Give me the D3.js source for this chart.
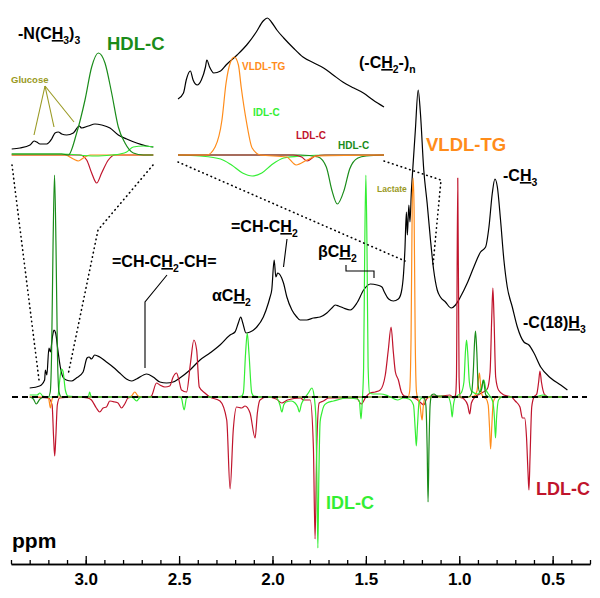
<!DOCTYPE html>
<html><head><meta charset="utf-8">
<script src="https://cdn.jsdelivr.net/npm/d3@7"></script>
<style>html,body{margin:0;padding:0;background:#fff}svg{display:block}</style>
</head><body>
<svg id="c" width="600" height="598"></svg>
<script>
// ---------- DATA ----------
const majorTicks = [3.0, 2.5, 2.0, 1.5, 1.0, 0.5];
const tickLabels = ["3.0", "2.5", "2.0", "1.5", "1.0", "0.5"];
const minorTicks = [3.4,3.3,3.2,3.1,3.0,2.9,2.8,2.7,2.6,2.5,2.4,2.3,2.2,2.1,2.0,1.9,1.8,1.7,1.6,1.5,1.4,1.3,1.2,1.1,1.0,0.9,0.8,0.7,0.6,0.5,0.4,0.3];

// main spectra: [ppm, intensity]
const totalSpectrum = [[3.300,9],[3.247,11],[3.220,17],[3.216,27],[3.208,22],[3.197,49],[3.189,45],[3.179,59],[3.170,67],[3.161,64],[3.149,47],[3.136,30],[3.122,20],[3.104,17],[3.077,16],[3.050,19],[3.014,25],[2.993,39],[2.982,40],[2.969,38],[2.952,42],[2.925,40],[2.889,35],[2.854,30],[2.818,24],[2.782,18],[2.755,16],[2.728,18],[2.674,23],[2.639,20],[2.603,15],[2.567,14],[2.532,15],[2.496,19],[2.442,27],[2.388,37],[2.335,44],[2.281,52],[2.227,62],[2.201,65],[2.183,74],[2.170,80],[2.159,74],[2.142,64],[2.120,65],[2.084,70],[2.049,80],[2.022,94],[2.013,100],[2.004,107],[1.991,137],[1.982,120],[1.972,124],[1.959,122],[1.941,114],[1.923,100],[1.896,87],[1.870,80],[1.852,77],[1.816,77],[1.781,79],[1.745,80],[1.709,84],[1.682,89],[1.664,92],[1.646,91],[1.620,89],[1.584,87],[1.548,94],[1.512,107],[1.476,113],[1.440,112],[1.414,110],[1.401,105],[1.378,98],[1.353,96],[1.326,98],[1.310,105],[1.298,124],[1.291,147],[1.283,185],[1.278,162],[1.270,192],[1.264,175],[1.256,207],[1.251,222],[1.235,267],[1.220,307],[1.208,284],[1.190,227],[1.172,194],[1.154,157],[1.137,127],[1.118,107],[1.101,100],[1.074,95],[1.043,89],[1.020,92],[0.994,100],[0.957,114],[0.922,130],[0.886,145],[0.859,150],[0.841,170],[0.823,204],[0.809,218],[0.796,210],[0.779,177],[0.761,137],[0.743,110],[0.716,90],[0.689,70],[0.654,55],[0.627,52],[0.600,44],[0.564,30],[0.511,19],[0.457,12],[0.421,7]];

const ldlC = [[3.30,0],[3.20,-1],[3.18,-8],[3.172,-40],[3.166,-59],[3.160,-40],[3.152,-8],[3.14,-1],[3.05,0],[2.99,-1],[2.969,-3],[2.943,-11],[2.925,-15],[2.907,-11],[2.889,-10],[2.871,-4],[2.844,-5],[2.827,-6],[2.808,-11],[2.791,-7],[2.773,-1],[2.746,0],[2.66,0],[2.648,1],[2.621,14],[2.603,12],[2.576,10],[2.550,11],[2.532,20],[2.514,24],[2.501,17],[2.487,7],[2.460,5],[2.439,34],[2.421,57],[2.406,47],[2.392,10],[2.362,4],[2.335,0],[2.281,-4],[2.245,-23],[2.227,-92],[2.210,-33],[2.192,-10],[2.165,-11],[2.147,-9],[2.120,-16],[2.093,-41],[2.081,-16],[2.067,-3],[2.031,0],[1.98,-2],[1.95,-6],[1.92,-3],[1.85,-1],[1.834,-3],[1.798,-3],[1.781,-50],[1.772,-142],[1.763,-50],[1.750,-6],[1.727,-4],[1.70,-1],[1.62,-1],[1.55,-1],[1.525,-7],[1.50,0],[1.477,4],[1.450,5],[1.423,7],[1.396,22],[1.380,47],[1.365,70],[1.353,45],[1.342,25],[1.326,17],[1.310,5],[1.294,1],[1.26,0],[1.23,-2],[1.205,-6],[1.19,-8],[1.175,-2],[1.15,1],[1.10,1],[1.05,2],[1.03,-1],[1.02,2],[1.015,20],[1.008,219],[1.001,20],[0.995,0],[0.975,-2],[0.955,-8],[0.944,-17],[0.935,-6],[0.915,0],[0.88,4],[0.85,8],[0.835,25],[0.826,80],[0.820,109],[0.814,80],[0.805,20],[0.79,7],[0.76,2],[0.72,0],[0.70,-4],[0.675,-10],[0.662,-21],[0.650,-21],[0.640,-40],[0.632,-75],[0.627,-93],[0.621,-60],[0.612,-10],[0.60,0],[0.585,3],[0.575,15],[0.568,26],[0.560,15],[0.545,3],[0.52,0],[0.42,0]];

const idlC = [[3.30,2],[3.26,2],[3.245,4],[3.23,1],[3.20,0],[3.16,0],[3.149,1],[3.139,17],[3.130,28],[3.122,26],[3.109,7],[3.095,1],[3.00,0],[2.985,1],[2.979,5],[2.972,1],[2.96,0],[2.76,0],[2.745,-1],[2.728,-4],[2.712,-1],[2.70,0],[2.50,0],[2.488,-1],[2.473,-13],[2.460,-1],[2.44,0],[2.20,0],[2.165,1],[2.156,4],[2.144,44],[2.135,64],[2.126,44],[2.111,4],[2.10,1],[2.05,0],[2.00,0],[1.977,-1],[1.960,-8],[1.950,-15],[1.940,-8],[1.927,-5],[1.900,-4],[1.879,-6],[1.865,-10],[1.856,-15],[1.845,-7],[1.834,-3],[1.808,4],[1.789,9],[1.778,2],[1.768,-20],[1.762,-83],[1.757,-151],[1.752,-83],[1.745,-25],[1.736,-16],[1.725,-9],[1.709,-6],[1.673,-4],[1.601,-1],[1.548,-2],[1.535,-4],[1.526,-22],[1.519,-3],[1.512,30],[1.506,150],[1.500,222],[1.494,150],[1.488,30],[1.480,4],[1.46,3],[1.42,3],[1.38,1],[1.33,-3],[1.30,-1],[1.27,-2],[1.245,-8],[1.235,-35],[1.230,-49],[1.224,-30],[1.215,-5],[1.20,-1],[1.10,1],[1.06,0],[1.045,-8],[1.038,-20],[1.031,-8],[1.02,0],[0.99,4],[0.975,15],[0.967,45],[0.961,57],[0.955,45],[0.946,15],[0.935,6],[0.90,3],[0.88,10],[0.868,17],[0.858,8],[0.84,2],[0.82,-5],[0.812,-20],[0.806,-41],[0.800,-20],[0.790,-3],[0.77,0],[0.60,0],[0.55,2],[0.52,0],[0.42,0]];

const hdlC = [[3.30,0],[3.28,-2],[3.265,-7],[3.245,-2],[3.22,0],[3.20,0],[3.19,5],[3.183,40],[3.175,150],[3.167,222],[3.159,150],[3.151,40],[3.143,5],[3.13,0],[1.20,0],[1.185,-2],[1.178,-10],[1.172,-50],[1.167,-105],[1.162,-50],[1.156,-8],[1.148,2],[1.135,3],[1.12,1],[1.10,0],[0.95,0],[0.935,3],[0.925,25],[0.918,55],[0.913,66],[0.906,45],[0.899,12],[0.890,5],[0.880,8],[0.872,17],[0.866,12],[0.858,2],[0.84,0],[0.42,0]];

const vldlTG = [[3.30,0],[3.21,0],[3.198,-2],[3.189,-11],[3.180,-2],[3.17,0],[2.77,0],[2.755,1],[2.737,5],[2.720,1],[2.70,0],[1.29,0],[1.275,0],[1.266,5],[1.258,60],[1.252,190],[1.247,219],[1.242,190],[1.236,60],[1.229,5],[1.220,-3],[1.210,-8],[1.204,-18],[1.199,-23],[1.193,-10],[1.185,-1],[1.10,0],[0.95,0],[0.92,1],[0.905,6],[0.897,18],[0.892,24],[0.887,15],[0.880,3],[0.870,0],[0.855,-2],[0.845,-8],[0.838,-30],[0.832,-52],[0.826,-30],[0.818,-5],[0.80,0],[0.42,0]];

// left inset (N(CH3)3 region)
const insetL_total = [[3.260,6],[3.250,7],[3.238,10],[3.233,14],[3.230,13],[3.226,11],[3.218,11],[3.212,16],[3.208,22],[3.204,23],[3.200,21],[3.194,20],[3.186,22],[3.179,29],[3.176,27],[3.168,29],[3.160,31],[3.152,30],[3.142,27],[3.132,20],[3.122,16],[3.110,12],[3.098,9],[3.090,8]];
const insetL_hdl = [[3.260,1],[3.20,1],[3.192,0],[3.182,22],[3.172,55],[3.164,88],[3.156,102],[3.148,92],[3.140,62],[3.132,28],[3.124,12],[3.114,2],[3.102,0],[3.090,0]];
const insetL_idl = [[3.260,1],[3.20,1],[3.16,-1],[3.14,0],[3.13,1],[3.122,3],[3.114,8],[3.102,9],[3.090,8]];
const insetL_vldl = [[3.260,0],[3.196,0],[3.186,-4],[3.180,-6],[3.174,-3],[3.166,0],[3.090,0]];
const insetL_ldl = [[3.260,0],[3.178,0],[3.170,-5],[3.164,-18],[3.158,-28],[3.152,-18],[3.144,-5],[3.136,0],[3.090,0]];

// middle inset (CH2 region)
const insetM_total = [[1.290,56],[1.286,62],[1.284,75],[1.281,84],[1.279,75],[1.276,70],[1.273,75],[1.270,88],[1.269,95],[1.267,88],[1.264,82],[1.259,84],[1.255,90],[1.247,100],[1.240,110],[1.233,123],[1.228,134],[1.225,137],[1.222,133],[1.218,125],[1.213,117],[1.206,107],[1.199,98],[1.191,92],[1.184,87],[1.177,80],[1.170,73],[1.162,67],[1.155,62],[1.148,55],[1.140,48]];
const insetM_vldl = [[1.290,0],[1.269,0],[1.263,8],[1.258,35],[1.255,72],[1.252,92],[1.249,98],[1.246,90],[1.244,68],[1.240,32],[1.236,7],[1.230,0],[1.211,-2],[1.204,-10],[1.196,-5],[1.189,-1],[1.140,0]];
const insetM_ldl = [[1.290,0],[1.206,0],[1.200,-2],[1.196,-6],[1.190,-1],[1.183,0],[1.140,0]];
const insetM_idl = [[1.290,0],[1.274,-1],[1.259,-4],[1.251,-10],[1.243,-18],[1.236,-21],[1.229,-18],[1.222,-10],[1.213,-3],[1.201,-1],[1.179,0],[1.140,0]];
const insetM_hdl = [[1.290,0],[1.201,0],[1.188,-2],[1.182,-12],[1.178,-35],[1.174,-49],[1.169,-35],[1.165,-14],[1.159,-3],[1.153,-1],[1.140,0]];

// ---------- DRAW ----------
const COL = {black:"#000", hdl:"#1a8c1a", idl:"#33ee33", vldl:"#ff8c1a", ldl:"#c0142c", olive:"#999922"};
const FONT = "'Liberation Sans', Arial, Helvetica, sans-serif";
const svg = d3.select("#c");

const x = d3.scaleLinear().domain([3.4, 0.3]).range([11, 590]);
const y = d3.scaleLinear().domain([0, 100]).range([397, 297]);
const xL = d3.scaleLinear().domain([3.26, 3.09]).range([11.7, 153.3]);
const yI = d3.scaleLinear().domain([0, 100]).range([155, 55]);
const xM = d3.scaleLinear().domain([1.29, 1.14]).range([178, 384]);

function draw(data, sx, sy, color, w) {
  const line = d3.line().x(d => sx(d[0])).y(d => sy(d[1])).curve(d3.curveMonotoneX);
  svg.append("path").attr("d", line(data)).attr("fill", "none")
    .attr("stroke", color).attr("stroke-width", w || 1.2).attr("stroke-linejoin", "round");
}

// insets
draw(insetL_total, xL, yI, COL.black);
draw(insetL_ldl, xL, yI, COL.ldl);
draw(insetL_vldl, xL, yI, COL.vldl);
draw(insetL_idl, xL, yI, COL.idl);
draw(insetL_hdl, xL, yI, COL.hdl);

draw(insetM_total, xM, yI, COL.black);
draw(insetM_idl, xM, yI, COL.idl);
draw(insetM_hdl, xM, yI, COL.hdl);
draw(insetM_ldl, xM, yI, COL.ldl);
draw(insetM_vldl, xM, yI, COL.vldl);

// main
draw(totalSpectrum, x, y, COL.black);
draw(ldlC, x, y, COL.ldl);
draw(vldlTG, x, y, COL.vldl);
draw(idlC, x, y, COL.idl);
draw(hdlC, x, y, COL.hdl);

// baseline dashed
svg.append("line").attr("x1", 12).attr("x2", 587).attr("y1", y(0)).attr("y2", y(0))
  .attr("stroke", "#000").attr("stroke-width", 2).attr("stroke-dasharray", "6,4");

// dotted zoom guides
function poly(pts, dash, w, color) {
  svg.append("path").attr("d", d3.line()(pts)).attr("fill", "none")
    .attr("stroke", color || "#000").attr("stroke-width", w || 1.2)
    .attr("stroke-dasharray", dash || null).attr("stroke-linecap", dash ? "round" : "butt");
}
poly([[12,165],[39,380]], "0.5,4", 1.6);
poly([[153,165],[98,230],[68,375]], "0.5,4", 1.6);
poly([[178,162],[405,261]], "0.5,4", 1.6);
poly([[384,161],[441,180],[433,265]], "0.5,4", 1.6);

// leader lines
poly([[167,275],[145,302],[145,368]], null, 1.1);
poly([[287,239],[283.5,267]], null, 1.1);
poly([[346,265],[346,271],[374,271],[374,278]], null, 1.1);
// glucose pointers
poly([[45,86],[34,135]], null, 1.1, COL.olive);
poly([[45,86],[54,127]], null, 1.1, COL.olive);
poly([[45,86],[74,122]], null, 1.1, COL.olive);

// axis
const axisY = 564;
const gMinor = svg.append("g").attr("transform", `translate(0,${axisY})`)
  .call(d3.axisBottom(x).tickValues(minorTicks).tickSizeInner(-4).tickSizeOuter(0).tickFormat(""));
const gMajor = svg.append("g").attr("transform", `translate(0,${axisY})`)
  .call(d3.axisBottom(x).tickValues(majorTicks).tickSizeInner(-8).tickSizeOuter(0).tickPadding(9)
    .tickFormat((d, i) => tickLabels[i]));
[gMinor, gMajor].forEach(g => {
  g.selectAll("path.domain").attr("stroke", "#000").attr("stroke-width", 1.5);
  g.selectAll(".tick line").attr("stroke", "#000").attr("stroke-width", 1.3);
});
gMajor.selectAll(".tick text").attr("font-family", FONT).attr("font-weight", "bold")
  .attr("font-size", 17).attr("fill", "#000");

// text helper
function label(px, py, parts, size, color, weight) {
  const t = svg.append("text").attr("x", px).attr("y", py)
    .attr("font-family", FONT).attr("font-size", size).attr("font-weight", weight || "bold")
    .attr("fill", color || "#000");
  let shift = 0;
  parts.forEach(p => {
    if (typeof p === "string") p = {t: p};
    const s = t.append("tspan").text(p.t);
    const want = p.sub ? Math.round(size * 0.3) : 0;
    if (want !== shift) { s.attr("dy", want - shift); shift = want; }
    if (p.sub) s.attr("font-size", size * 0.65);
    if (p.u) s.attr("text-decoration", "underline");
  });
  return t;
}

label(18, 39, ["-N(C", {t:"H", u:true}, {t:"3", sub:true}, ")", {t:"3", sub:true}], 16);
label(107, 50, ["HDL-C"], 18.5, COL.hdl);
label(11, 83, ["Glucose"], 9.5, COL.olive);
label(242, 70, ["VLDL-TG"], 10, COL.vldl);
label(253, 116, ["IDL-C"], 10, COL.idl);
label(296, 139, ["LDL-C"], 10, COL.ldl);
label(338, 149, ["HDL-C"], 10, COL.hdl);
label(359, 68, ["(-C", {t:"H", u:true}, {t:"2", sub:true}, "-)", {t:"n", sub:true}], 16);
label(112, 267, ["=CH-C", {t:"H", u:true}, {t:"2", sub:true}, "-CH="], 16);
label(212, 301, ["\u03b1C", {t:"H", u:true}, {t:"2", sub:true}], 16);
label(231, 232, ["=CH-C", {t:"H", u:true}, {t:"2", sub:true}], 16);
label(318, 257, ["\u03b2C", {t:"H", u:true}, {t:"2", sub:true}], 16);
label(377, 192, ["Lactate"], 8.5, COL.olive);
label(426, 151, ["VLDL-TG"], 18.5, COL.vldl);
label(503, 181, ["-C", {t:"H", u:true}, {t:"3", sub:true}], 16);
label(523, 328, ["-C(18)", {t:"H", u:true}, {t:"3", sub:true}], 16);
label(326, 509, ["IDL-C"], 18, COL.idl);
label(536, 495, ["LDL-C"], 18, COL.ldl);
label(12, 548, ["ppm"], 21);
</script>
</body></html>
